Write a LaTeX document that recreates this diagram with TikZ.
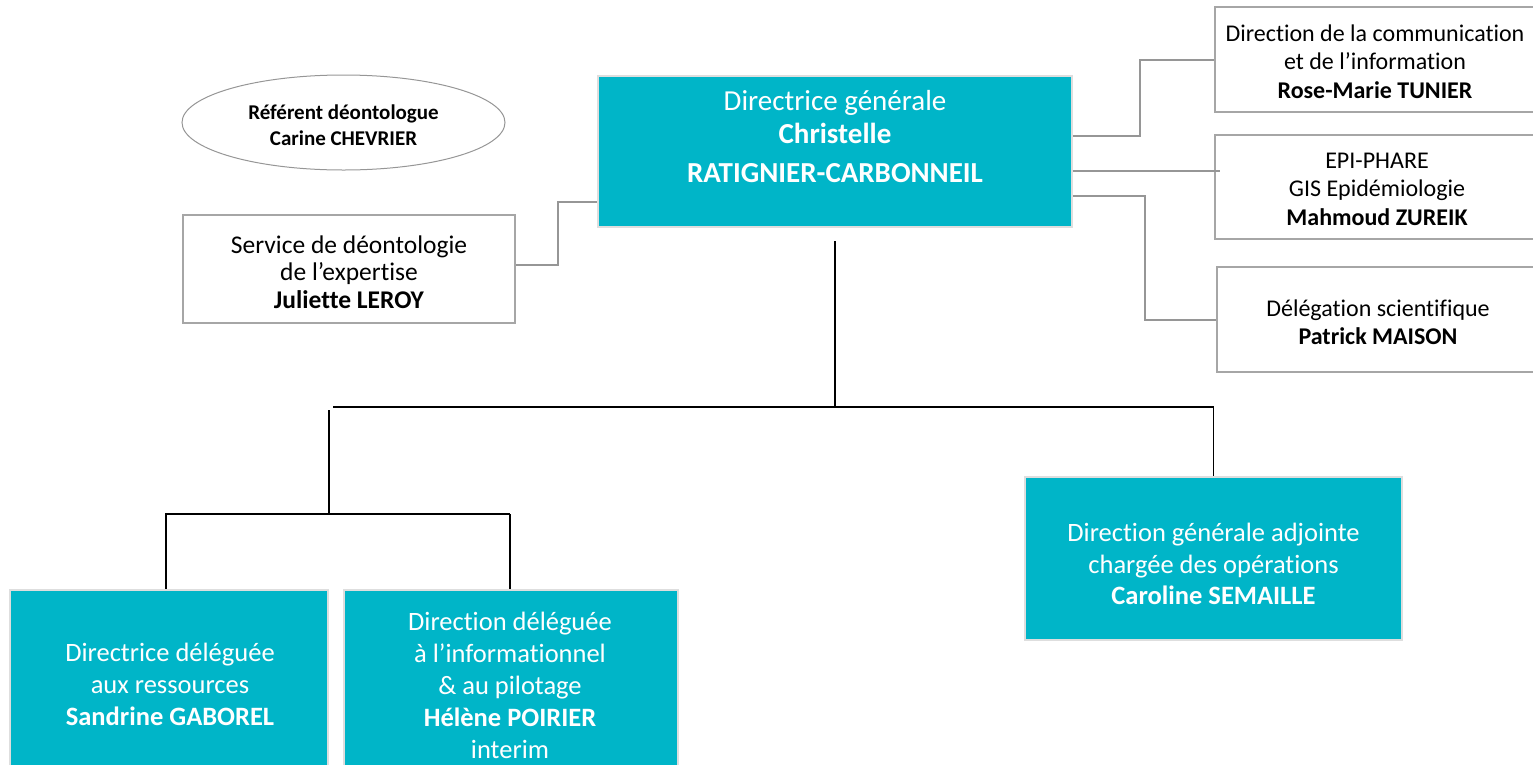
\documentclass[tikz,border=0pt]{standalone}
\usepackage{fontspec}
\setmainfont[Ligatures=CommonOff]{Carlito}
\usetikzlibrary{shapes.geometric}
\definecolor{teal1}{RGB}{0,181,200}
\definecolor{tealedge}{RGB}{222,222,222}
\definecolor{gbord}{RGB}{166,166,166}
\definecolor{gline}{RGB}{150,150,150}
\begin{document}
\begin{tikzpicture}[x=1pt,y=-1pt,
 tbox/.style={rectangle, fill=teal1, draw=tealedge, line width=1.5pt, inner sep=0},
 wbox/.style={rectangle, fill=white, draw=gbord, line width=2pt, inner sep=0},
 lbl/.style={align=center, inner sep=0},
 wlbl/.style={lbl, text=white},
 side/.style={draw=gline, line width=1.2pt},
 tree/.style={draw=black, line width=1.2pt}]
\useasboundingbox (0,0) rectangle (1533,764);
\clip (0,0) rectangle (1533,764);

% main box
\node[tbox, minimum width=474pt, minimum height=151pt] (dg) at (835,151.5) {};
\node[wlbl, font=\fontsize{29}{33}\selectfont] (dgt) at (835,137)
  {Directrice générale\\ \textbf{Christelle}\\[6pt] \textbf{RATIGNIER-CARBONNEIL}};

% ellipse
\node[ellipse, draw=gline, line width=1pt, minimum width=323pt, minimum height=95pt, inner sep=0] (ref) at (343.5,122.5) {};
\node[lbl, font=\fontsize{21}{26}\selectfont\bfseries] (reft) at (343.5,125)
  {Référent déontologue\\ Carine CHEVRIER};

% service deontologie
\node[wbox, minimum width=332pt, minimum height=108pt] (svc) at (349,269) {};
\node[lbl, font=\fontsize{25.5}{27.5}\selectfont] (svct) at (349,272)
  {Service de déontologie\\ de l’expertise\\ \textbf{Juliette LEROY}};

% right boxes
\node[wbox, minimum width=322pt, minimum height=105pt] (rb1) at (1376,59.5) {};
\node[lbl, font=\fontsize{24}{28.5}\selectfont] (rb1t) at (1375,61.5)
  {Direction de la communication\\ et de l’information\\ \textbf{Rose-Marie TUNIER}};
\node[wbox, minimum width=322pt, minimum height=104pt] (rb2) at (1376,187) {};
\node[lbl, font=\fontsize{24}{28.5}\selectfont] (rb2t) at (1377,189)
  {EPI-PHARE\\ GIS Epidémiologie\\ \textbf{Mahmoud ZUREIK}};
\node[wbox, minimum width=322pt, minimum height=105pt] (rb3) at (1378,319.5) {};
\node[lbl, font=\fontsize{24}{28.5}\selectfont] (rb3t) at (1378,322)
  {Délégation scientifique\\ \textbf{Patrick MAISON}};

% bottom boxes
\node[tbox, minimum width=377pt, minimum height=163pt] (br) at (1213.5,558.5) {};
\node[wlbl, font=\fontsize{26.5}{31.5}\selectfont] (brt) at (1213.5,564)
  {Direction générale adjointe\\ chargée des opérations\\ \textbf{Caroline SEMAILLE}};
\node[tbox, minimum width=318pt, minimum height=220pt] (bl1) at (169,700) {};
\node[wlbl, font=\fontsize{26.5}{32}\selectfont] (bl1t) at (170,684)
  {Directrice déléguée\\ aux ressources\\ \textbf{Sandrine GABOREL}};
\node[tbox, minimum width=334pt, minimum height=220pt] (bl2) at (511,700) {};
\node[wlbl, font=\fontsize{26.5}{32}\selectfont] (bl2t) at (510,685)
  {Direction déléguée\\ à l’informationnel\\ \& au pilotage\\ \textbf{Hélène POIRIER}\\ interim};

% side connectors
\coordinate (sv1) at (558,265);
\coordinate (sv2) at (558,202);
\draw[side] (svc.east |- sv1) -- (sv1) -- (sv2) -- (dg.west |- sv2);

\coordinate (r1a) at (1140,136);
\coordinate (r1b) at (1140,60);
\draw[side] (dg.east |- r1a) -- (r1a) -- (r1b) -- (rb1.west |- r1b);
\coordinate (r2a) at (1220,171);
\draw[side] (dg.east |- r2a) -- (r2a);
\coordinate (r3a) at (1145,196);
\coordinate (r3b) at (1145,320);
\draw[side] (dg.east |- r3a) -- (r3a) -- (r3b) -- (rb3.west |- r3b);

% tree
\coordinate (t0) at (835,241);
\coordinate (t1) at (835,407);
\coordinate (t2) at (333,407);
\coordinate (t3) at (1213.5,407);
\coordinate (u0) at (329,410);
\coordinate (u1) at (329,514);
\coordinate (u2) at (166,514);
\coordinate (u3) at (510,514);
\draw[tree] (t0) -- (t1);
\draw[tree] (t2) -- (t3) -- (br.north);
\draw[tree] (u0) -- (u1);
\draw[tree] (u3) -- (u2) -- (bl1.north -| u2);
\draw[tree] (u3) -- (bl2.north -| u3);
\end{tikzpicture}
\end{document}
